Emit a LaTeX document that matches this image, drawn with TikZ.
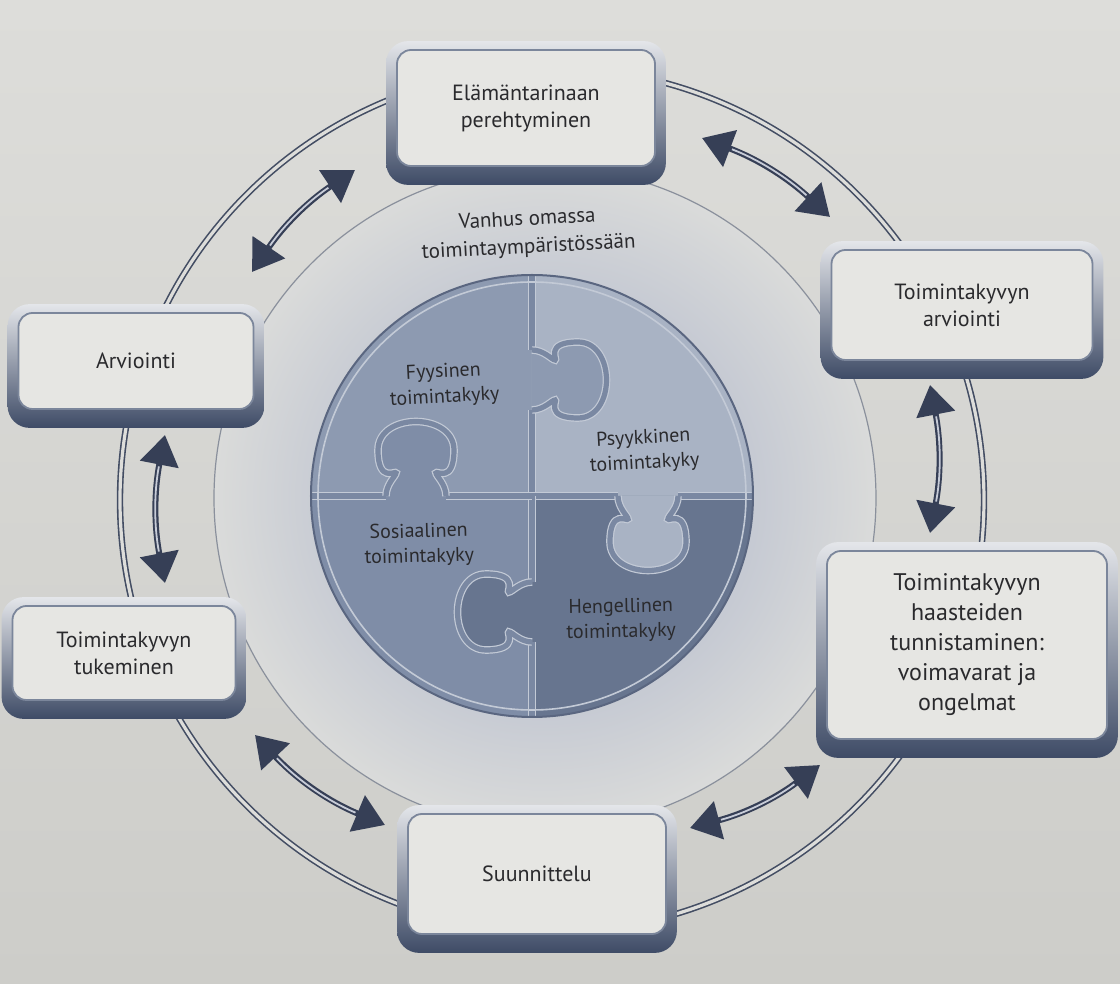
\documentclass[tikz,border=0pt]{standalone}
\usepackage{fontspec}
\setmainfont{PT Sans}
\usetikzlibrary{arrows.meta}

\definecolor{paperhi}{HTML}{DDDDDA}
\definecolor{paperlo}{HTML}{CDCDC9}
\definecolor{hollowin}{HTML}{C6CAD3}
\definecolor{hollowout}{HTML}{DADBDA}
\definecolor{ringcol}{HTML}{434D63}
\definecolor{ringfaint}{HTML}{8A909C}
\definecolor{framehi}{HTML}{E4E6EA}
\definecolor{framelo}{HTML}{3E4B66}
\definecolor{panelfill}{HTML}{E6E6E3}
\definecolor{panelline}{HTML}{7B869B}
\definecolor{arrowcol}{HTML}{363F56}
\definecolor{arrowhi}{HTML}{C7CCD8}
\definecolor{ink}{HTML}{2A2A2D}
\definecolor{fyys}{HTML}{8D9AB1}
\definecolor{psyy}{HTML}{A9B3C4}
\definecolor{sosi}{HTML}{7F8DA7}
\definecolor{heng}{HTML}{67758F}
\definecolor{seamhi}{HTML}{C3CAD6}
\definecolor{seamgap}{HTML}{7A88A2}
\definecolor{rimcol}{HTML}{5A6680}

\pgfdeclarelayer{paper}
\pgfdeclarelayer{frames}
\pgfsetlayers{paper,frames,main}

\pgfdeclareradialshading{hollow}{\pgfpointorigin}{color(0bp)=(hollowin); color(16bp)=(hollowin); color(25bp)=(hollowout); color(50bp)=(hollowout)}

% one tab of a puzzle piece, base on the y axis, pointing along +x
\newcommand\knobpath{(0,-30) .. controls (12,-30) and (20,-20) .. (23,-20) .. controls (26,-20) and (12,-38) .. (46,-38) .. controls (84,-38) and (84,38) .. (46,38) .. controls (12,38) and (26,20) .. (23,20) .. controls (20,20) and (12,30) .. (0,30)}

\tikzset{
  panel/.style={draw=panelline, line width=0.9pt, fill=panelfill, rounded corners=7pt,
    align=center, text=ink, inner sep=2pt, font=\fontsize{11}{13.5}\selectfont},
  bigpanel/.style={font=\fontsize{12}{15}\selectfont},
  boxframe/.style={rounded corners=11pt, top color=framehi, bottom color=framelo},
  twoway/.style={draw=arrowcol, line width=3pt, >={Triangle[length=15pt,width=19pt]}, <->,
    postaction={draw=arrowhi, line width=0.9pt, -, shorten <=16pt, shorten >=16pt}},
  seam/.style={draw=seamhi, line width=0.6pt, double=seamgap, double distance=2.6pt},
  piecetext/.style={align=center, text=ink, font=\fontsize{10}{12.5}\selectfont}
}

\begin{document}
\begin{tikzpicture}[x=0.5pt, y=0.5pt]
\useasboundingbox (-548,-484) rectangle (572,500);

% the six steps round the ring
\node[panel, minimum width=129pt, minimum height=58pt] (life) at (-22,392) {Elämäntarinaan\\perehtyminen};
\node[panel, minimum width=130.5pt, minimum height=55pt] (rate) at (414,195) {Toimintakyvyn\\arviointi};
\node[panel, bigpanel, minimum width=140pt, minimum height=94pt] (chal) at (419,-145) {Toimintakyvyn\\haasteiden\\tunnistaminen:\\voimavarat ja\\ongelmat};
\node[panel, minimum width=129pt, minimum height=60pt] (plan) at (-11,-374) {Suunnittelu};
\node[panel, minimum width=111.5pt, minimum height=47pt] (supp) at (-424,-153) {Toimintakyvyn\\tukeminen};
\node[panel, minimum width=117.5pt, minimum height=48pt] (eval) at (-412,139) {Arviointi};

\begin{pgfonlayer}{paper}
\shade[top color=paperhi, bottom color=paperlo] (-548,-484) rectangle (572,500);
\shade[shading=hollow] (-3,2) circle [radius=331];
\draw[ringfaint, line width=0.6pt] (-3,2) circle [radius=331];
\draw[ringcol, line width=0.8pt, double=paperhi, double distance=1.6pt] (4,0) circle [radius=432];
\end{pgfonlayer}

\begin{pgfonlayer}{frames}
\foreach \b in {life,rate,chal,plan,supp,eval}
  \shade[boxframe] ([shift={(-5pt,4pt)}]\b.north west) rectangle ([shift={(5pt,-9pt)}]\b.south east);
\end{pgfonlayer}

% puzzle: four quarters, each with one tab
\begin{scope}[shift={(-16,4)}]
\foreach \turn/\tint in {0/fyys,-90/psyy,-180/heng,-270/sosi}
  \fill[\tint, rotate=\turn] (0,0) -- (0,221) arc[start angle=90, end angle=180, radius=221] -- cycle;
\foreach \turn/\tint in {0/fyys,-90/psyy,-180/heng,-270/sosi}{
  \draw[seam, rotate=\turn] (0,0) -- (0,86) (0,146) -- (0,221);
  \begin{scope}[rotate=\turn, shift={(0,116)}]
    \fill[\tint] \knobpath -- cycle;
    \draw[seam] \knobpath;
  \end{scope}
}
\draw[rimcol, line width=1pt] (0,0) circle [radius=221];
\draw[seamhi, line width=0.8pt] (0,0) circle [radius=214];
\end{scope}

\node[piecetext, font=\fontsize{10.5}{14}\selectfont, rotate=3] (vanhus) at (-20,266) {Vanhus omassa\\toimintaympäristössään};
\node[piecetext, rotate=3] (fyysinen) at (-104,115) {Fyysinen\\toimintakyky};
\node[piecetext, rotate=3] (psyykkinen) at (96,49) {Psyykkinen\\toimintakyky};
\node[piecetext, rotate=1.5] (sosiaalinen) at (-129,-45) {Sosiaalinen\\toimintakyky};
\node[piecetext, rotate=1] (hengellinen) at (73,-120) {Hengellinen\\toimintakyky};

% two-way arrows between neighbouring steps
\coordinate (evalN) at (-296,228);
\coordinate (lifeW) at (-193,330);
\coordinate (lifeE) at (154,362);
\coordinate (rateN) at (282,283);
\coordinate (rateS) at (382,115);
\coordinate (chalN) at (382,-33);
\coordinate (chalS) at (272,-265);
\coordinate (planE) at (142,-328);
\coordinate (planW) at (-163,-325);
\coordinate (suppE) at (-293,-235);
\coordinate (suppN) at (-383,-83);
\coordinate (evalS) at (-383,65);

\draw[twoway] (evalN) to[bend left=11] (lifeW);
\draw[twoway] (lifeE) to[bend left=11] (rateN);
\draw[twoway] (rateS) to[bend left=11] (chalN);
\draw[twoway] (chalS) to[bend left=11] (planE);
\draw[twoway] (planW) to[bend left=12] (suppE);
\draw[twoway] (suppN) to[bend left=11] (evalS);

\end{tikzpicture}
\end{document}
